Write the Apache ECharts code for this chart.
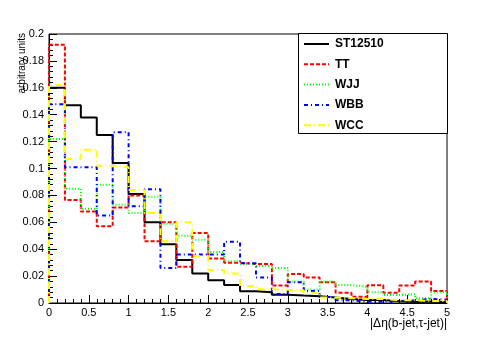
<!DOCTYPE html>
<html>
<head>
<meta charset="utf-8">
<script src="https://cdn.jsdelivr.net/npm/echarts@6/dist/echarts.min.js"></script>
<style>
html,body{margin:0;padding:0;background:#fff;}
#chart{width:498px;height:338px;}
</style>
</head>
<body>
<div id="chart"></div>
<script>
// bin lower edges, width 0.2
var binEdges=[0,0.2,0.4,0.6,0.8,1,1.2,1.4,1.6,1.8,2,2.2,2.4,2.6,2.8,3,3.2,3.4,3.6,3.8,4,4.2,4.4,4.6,4.8];
var xMax=5;
var names=['ST12510','TT','WJJ','WBB','WCC'];
var st12510=[0.160,0.147,0.138,0.125,0.104,0.081,0.060,0.0436,0.032,0.022,0.017,0.0133,0.0087,0.008,0.0062,0.0055,0.005,0.004,0.003,0.0022,0.0022,0.0013,0.0008,0.0012,0.0005];
var tt=[0.192,0.0766,0.068,0.057,0.071,0.080,0.046,0.060,0.027,0.052,0.033,0.030,0.029,0.029,0.013,0.0215,0.019,0.0155,0.0077,0.0047,0.0132,0.0077,0.013,0.0159,0.009];
var wjj=[0.122,0.085,0.070,0.088,0.073,0.067,0.079,0.059,0.050,0.047,0.038,0.031,0.029,0.0275,0.026,0.016,0.010,0.0159,0.0134,0.0121,0.008,0.006,0.0065,0.0035,0.008];
var wbb=[0.1477,0.101,0.101,0.065,0.127,0.072,0.0845,0.026,0.036,0.036,0.036,0.0456,0.0295,0.019,0.0067,0.0155,0.009,0.0045,0.002,0.001,0.001,0.0015,0.002,0.003,0.0025];
var wcc=[0.162,0.107,0.114,0.102,0.101,0.084,0.067,0.046,0.060,0.035,0.0245,0.022,0.0126,0.0102,0.0098,0.0095,0.0077,0.004,0.0036,0.003,0.003,0.002,0.002,0.0015,0.0015];

function histo(vals){
	var d=[[binEdges[0],0]];
	for(var i=0;i<vals.length;i++){
		d.push([binEdges[i],vals[i]]);
	}
	d.push([xMax,vals[vals.length-1]]);
	d.push([xMax,0]);
	return d;
}

var styles=[
	{color:'#000000',type:'solid'},
	{color:'#ff0000',type:[4,2]},
	{color:'#00ff00',type:[1,2]},
	{color:'#0000ff',type:[4,3,1,3]},
	{color:'#ffff00',type:[7,3,1,3]}
];
var allData=[st12510,tt,wjj,wbb,wcc];
var series=[];
var font='Liberation Sans';
// legend box drawn by hand (ROOT TLegend look)
var graphics=[
	{type:'rect',shape:{x:298.5,y:33.5,width:149,height:100},style:{fill:'#fff',stroke:'#000',lineWidth:1},z:50},
	{type:'text',right:51,top:318,style:{text:'|\u0394\u03b7(b-jet,\u03c4-jet)|',font:'12px "Liberation Sans"',fill:'#000'}},
	{type:'text',x:22,y:33,rotation:Math.PI/2,style:{text:'arbitrary units',font:'10px "Liberation Sans"',fill:'#000',align:'right',verticalAlign:'middle'}}
];
for(var k=0;k<names.length;k++){
	series.push({
		name:names[k],
		type:'line',
		step:'end',
		symbol:'none',
		silent:true,
		animation:false,
		lineStyle:{color:styles[k].color,width:2,type:styles[k].type},
		data:histo(allData[k])
	});
	var ry=44+k*20.3;
	var dash=styles[k].type==='solid'?null:styles[k].type;
	graphics.push({type:'line',z:51,shape:{x1:304,y1:ry,x2:329,y2:ry},style:{stroke:styles[k].color,lineWidth:2,lineDash:dash}});
	graphics.push({type:'text',z:51,x:335,y:ry,style:{text:names[k],font:'bold 12px "Liberation Sans"',fill:'#000',verticalAlign:'middle'}});
}

var mychart=echarts.init(document.getElementById('chart'));
var option={
	animation:false,
	grid:{left:49,right:51,top:34,bottom:35,show:true,borderColor:'#000',borderWidth:1},
	xAxis:{
		type:'value',min:0,max:5,interval:0.5,
		axisLine:{lineStyle:{color:'#000',width:1}},
		axisTick:{inside:true,length:8,lineStyle:{color:'#000'}},
		minorTick:{show:true,splitNumber:5,length:4,lineStyle:{color:'#000'}},
		splitLine:{show:false},
		axisLabel:{color:'#000',fontFamily:font,fontSize:11,margin:4}
	},
	yAxis:{
		type:'value',min:0,max:0.2,interval:0.02,
		axisLine:{show:true,lineStyle:{color:'#000',width:1}},
		axisTick:{show:true,inside:true,length:8,lineStyle:{color:'#000'}},
		minorTick:{show:true,splitNumber:5,length:4,lineStyle:{color:'#000'}},
		splitLine:{show:false},
		axisLabel:{color:'#000',fontFamily:font,fontSize:11,margin:5}
	},
	graphic:graphics,
	series:series
};
mychart.setOption(option);
</script>
</body>
</html>
